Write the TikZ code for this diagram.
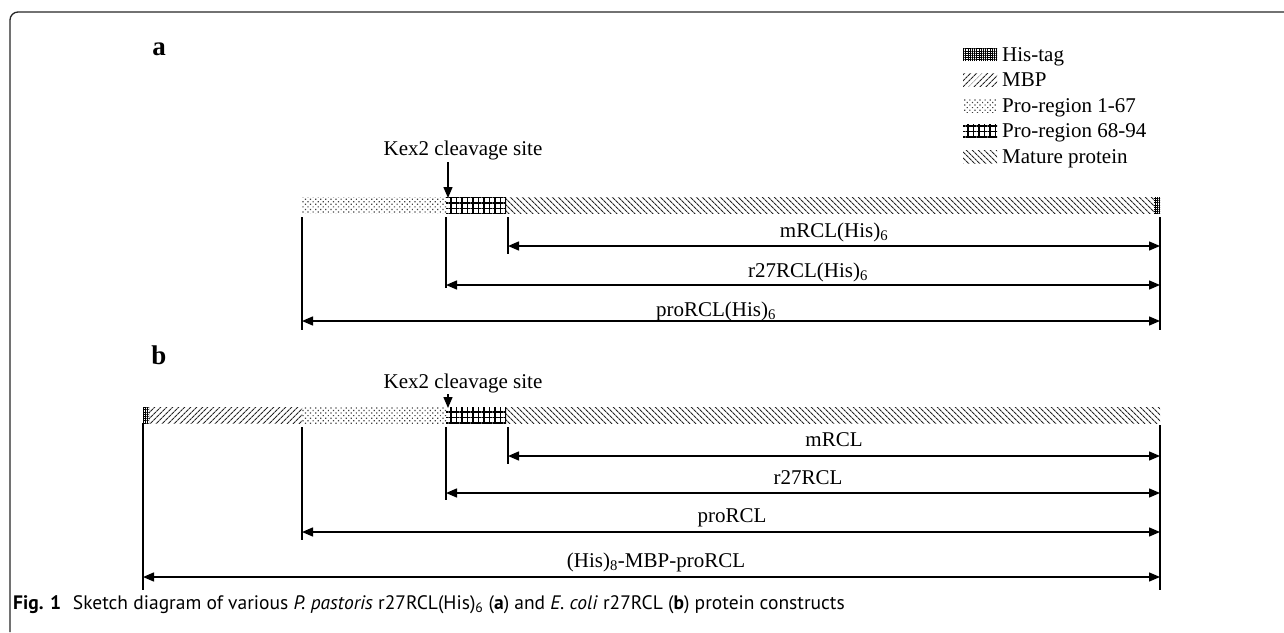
\documentclass[tikz,border=0pt]{standalone}
\usepackage{fontspec}
\setmainfont{Liberation Serif}
\newfontfamily\capfont{PT Sans}
\usetikzlibrary{patterns.meta,arrows.meta}
\begin{document}
\begin{tikzpicture}[x=1pt,y=-1pt,
  lbl/.style={font=\fontsize{21}{25}\selectfont, inner sep=0pt, anchor=base},
  leg/.style={font=\fontsize{21}{25}\selectfont, inner sep=0pt, anchor=base west},
  panel/.style={font=\fontsize{27}{30}\selectfont\bfseries, inner sep=0pt, anchor=base},
  seg/.style={draw=none, minimum height=16pt, inner sep=0pt, outer sep=0pt, anchor=north west},
  sw/.style={draw=none, minimum height=13pt, minimum width=34pt, inner sep=0pt, outer sep=0pt, anchor=south west},
  his/.style={pattern={Hatch[angle=0,distance=2.2pt,line width=1pt]}, pattern color=black},
  mbp/.style={pattern={Lines[angle=45,distance=4pt,line width=1.1pt]}, pattern color=black!85},
  proA/.style={pattern={Dots[radius=0.85pt,distance=3.6pt,angle=45]}, pattern color=black!75},
  proB/.style={pattern={Hatch[angle=0,distance=5.5pt,line width=1.2pt]}, pattern color=black},
  mat/.style={pattern={Lines[angle=-45,distance=4pt,line width=1.1pt]}, pattern color=black!85},
  tick/.style={line width=1.4pt},
  span/.style={line width=1.4pt,{Triangle[length=11pt,width=9pt]}-{Triangle[length=11pt,width=9pt]}},
  kex/.style={line width=1.4pt,-{Triangle[length=11pt,width=9pt]}},
]
\useasboundingbox (0,0) rectangle (1284,632);
\draw[line width=1.3pt, black!85, rounded corners=8pt] (10,632) -- (10,12) -- (1284,12);

% ---------- legend ----------
\node[sw,his]  (lg1) at (963,61) {};
\node[leg] (lt1) at (1002,61) {His-tag};
\node[sw,mbp]  (lg2) at (963,86.5) {};
\node[leg] (lt2) at (1002,86.5) {MBP};
\node[sw,proA] (lg3) at (963,112) {};
\node[leg] (lt3) at (1002,112) {Pro-region 1-67};
\node[sw,proB] (lg4) at (963,137.5) {};
\node[leg] (lt4) at (1002,137.5) {Pro-region 68-94};
\node[sw,mat]  (lg5) at (963,163) {};
\node[leg] (lt5) at (1002,163) {Mature protein};

% ---------- panel a ----------
\node[panel] (pa) at (159,55) {a};
\node[lbl] (kexa) at (463,155) {Kex2 cleavage site};
\node[seg,proA,minimum width=144pt] (aP1) at (302,197) {};
\node[seg,proB,minimum width=60pt]  (aP2) at (446,197) {};
\node[seg,mat,minimum width=648pt]  (aM)  at (506,197) {};
\node[seg,his,minimum width=6pt]    (aH)  at (1154,197) {};
\coordinate (kexaS) at (448,162);
\coordinate (kexaE) at (448,198);
\draw[kex] (kexaS) -- (kexaE);

\coordinate (a1t) at (302,217); \coordinate (a1b) at (302,330);
\coordinate (a2t) at (446,217); \coordinate (a2b) at (446,288);
\coordinate (a3t) at (508,217); \coordinate (a3b) at (508,254);
\coordinate (a4t) at (1160,217); \coordinate (a4b) at (1160,330);
\draw[tick] (a1t) -- (a1b);
\draw[tick] (a2t) -- (a2b);
\draw[tick] (a3t) -- (a3b);
\draw[tick] (a4t) -- (a4b);

\coordinate (am1) at (508,246);  \coordinate (am2) at (1160,246);
\coordinate (ar1) at (446,285);  \coordinate (ar2) at (1160,285);
\coordinate (ap1) at (302,321);  \coordinate (ap2) at (1160,321);
\draw[span] (am1) -- (am2);
\draw[span] (ar1) -- (ar2);
\draw[span] (ap1) -- (ap2);
\node[lbl] (aml) at (834,237) {mRCL(His)\textsubscript{6}};
\node[lbl] (arl) at (808,277) {r27RCL(His)\textsubscript{6}};
\node[lbl] (apl) at (716,316) {proRCL(His)\textsubscript{6}};

% ---------- panel b ----------
\node[panel] (pb) at (159,364) {b};
\node[lbl] (kexb) at (463,388) {Kex2 cleavage site};
\node[seg,his,minimum width=6pt]    (bH)  at (143,407) {};
\node[seg,mbp,minimum width=153pt]  (bB)  at (149,407) {};
\node[seg,proA,minimum width=144pt] (bP1) at (302,407) {};
\node[seg,proB,minimum width=60pt]  (bP2) at (446,407) {};
\node[seg,mat,minimum width=654pt]  (bM)  at (506,407) {};
\coordinate (kexbS) at (448,394);
\coordinate (kexbE) at (448,408);
\draw[kex] (kexbS) -- (kexbE);

\coordinate (b0t) at (143,423); \coordinate (b0b) at (143,590);
\coordinate (b1t) at (302,427); \coordinate (b1b) at (302,540);
\coordinate (b2t) at (446,427); \coordinate (b2b) at (446,500);
\coordinate (b3t) at (508,427); \coordinate (b3b) at (508,464);
\coordinate (b4t) at (1160,425); \coordinate (b4b) at (1160,590);
\draw[tick] (b0t) -- (b0b);
\draw[tick] (b1t) -- (b1b);
\draw[tick] (b2t) -- (b2b);
\draw[tick] (b3t) -- (b3b);
\draw[tick] (b4t) -- (b4b);

\coordinate (bm1) at (508,456);  \coordinate (bm2) at (1160,456);
\coordinate (br1) at (446,493);  \coordinate (br2) at (1160,493);
\coordinate (bp1) at (302,532);  \coordinate (bp2) at (1160,532);
\coordinate (bh1) at (143,577);  \coordinate (bh2) at (1160,577);
\draw[span] (bm1) -- (bm2);
\draw[span] (br1) -- (br2);
\draw[span] (bp1) -- (bp2);
\draw[span] (bh1) -- (bh2);
\node[lbl] (bml) at (834,446) {mRCL};
\node[lbl] (brl) at (808,484) {r27RCL};
\node[lbl] (bpl) at (732,522) {proRCL};
\node[lbl] (bhl) at (656,567) {(His)\textsubscript{8}-MBP-proRCL};

% ---------- caption ----------
\node[font=\capfont\fontsize{19.5}{23}\selectfont, inner sep=0pt, anchor=base west] (cap) at (13,609)
 {\textbf{Fig. 1}\hspace{0.6em}Sketch diagram of various \textit{P. pastoris} r27RCL(His)\textsubscript{6} (\textbf{a}) and \textit{E. coli} r27RCL (\textbf{b}) protein constructs};
\end{tikzpicture}
\end{document}
